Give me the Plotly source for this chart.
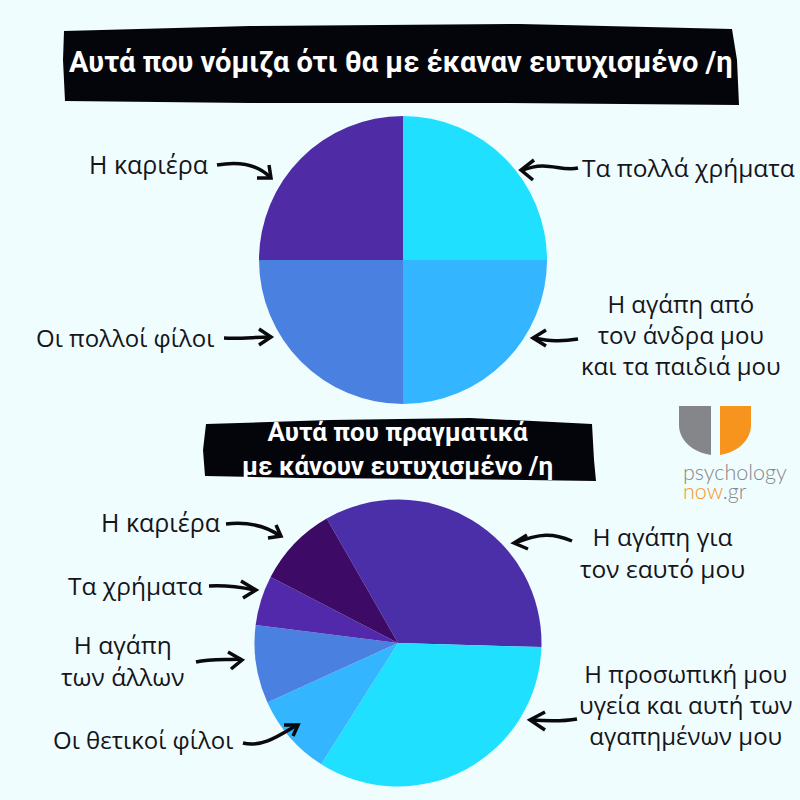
import plotly.graph_objs as go

# upper pie
thought_labels = ["Τα πολλά χρήματα", "Η αγάπη από τον άνδρα μου και τα παιδιά μου", "Οι πολλοί φίλοι", "Η καριέρα"]
thought_values = [25, 25, 25, 25]
thought_colors = ["#1fe0ff", "#33b5ff", "#4a80e0", "#4f2ca6"]

# lower pie
real_labels = ["Η αγάπη για τον εαυτό μου", "Η προσωπική μου υγεία και αυτή των αγαπημένων μου",
               "Οι θετικοί φίλοι", "Η αγάπη των άλλων", "Τα χρήματα", "Η καριέρα"]
real_values = [33.7, 33.5, 9.2, 8.8, 5.6, 9.1]
real_colors = ["#4b2fa8", "#1fe0ff", "#33b5ff", "#4a80e0", "#5229ab", "#3d0a66"]

BG = "#f0fdff"
LABEL_FONT = "Open Sans"
TITLE_FONT = "Roboto"
GREY = "#85868a"
ORANGE = "#f7941e"


def Domain(cx, cy, r):
    return dict(x=[(cx - r) / 800, (cx + r) / 800], y=[1 - (cy + r) / 800, 1 - (cy - r) / 800])


fig = go.Figure()
fig.add_trace(go.Pie(labels=thought_labels, values=thought_values, sort=False, direction="clockwise",
                     rotation=0, textinfo="none", marker=dict(colors=thought_colors), domain=Domain(403, 260, 144),
                     showlegend=False))
fig.add_trace(go.Pie(labels=real_labels, values=real_values, sort=False, direction="clockwise",
                     rotation=-29.8, textinfo="none", marker=dict(colors=real_colors), domain=Domain(398, 643, 143.5),
                     showlegend=False))

shapes = []


def Blob(path, color):
    shapes.append(dict(type="path", path=path, fillcolor=color, line=dict(width=0), xref="x", yref="y", layer="above"))


def Arrow(curve, head):
    shapes.append(dict(type="path", path=curve, line=dict(color="#0a0a0d", width=3.5), xref="x", yref="y", layer="above"))
    shapes.append(dict(type="path", path=head, line=dict(color="#0a0a0d", width=3.5), xref="x", yref="y", layer="above"))


# black ribbons behind the titles
Blob("M64,31 L250,26 L520,24 L732,29 L737,60 L739,105 L500,103 L250,103 L65,101 L63,60 Z", "#04050a")
Blob("M206,424 L330,420 L470,418 L592,424 L594,460 L596,481 L450,479 L300,478 L205,476 L203,450 Z", "#04050a")

# arrows, top pie
Arrow("M217,165 C240,161 258,165 270,177", "M257,178 L271,178 L269,165")
Arrow("M578,168 C560,172 548,160 523,170", "M534,160 L521,170 L533,180")
Arrow("M224,338 C240,339 255,337 270,337", "M259,329 L271,337 L259,345")
Arrow("M578,339 C560,342 550,341 533,338", "M546,330 L533,338 L546,346")
# arrows, bottom pie
Arrow("M226,524 C245,522 265,525 280,536", "M268,538 L281,536 L276,525")
Arrow("M209,586 C225,585 240,587 255,590", "M243,598 L256,590 L241,581")
Arrow("M196,662 C210,659 225,660 241,659", "M228,652 L242,660 L231,669")
Arrow("M243,743 C262,748 280,735 297,725", "M284,725 L298,725 L293,736")
Arrow("M572,541 C553,533 540,533 515,543", "M527,535 L514,543 L528,549")
Arrow("M577,719 C560,722 545,721 531,720", "M545,712 L530,720 L545,730")

# logo
Blob("M679,406 L711,406 L711,455 C692,452 679,440 679,425 Z", GREY)
Blob("M720,406 L751,406 L751,425 C751,440 738,452 720,455 Z", ORANGE)

annotations = []


def Text(x, y, text, size, font=LABEL_FONT, color="#15151a", anchor="center", weight="normal"):
    annotations.append(dict(x=x, y=y, text=text, showarrow=False, xref="x", yref="y", xanchor=anchor, yanchor="middle",
                            font=dict(family=font, size=size, color=color, weight=weight), align="center"))


Text(401, 62, "Αυτά που νόμιζα ότι θα με έκαναν ευτυχισμένο /η", 29, font=TITLE_FONT, color="white", weight="bold")
Text(397, 449, "Αυτά που πραγματικά<br>με κάνουν ευτυχισμένο /η", 26, font=TITLE_FONT, color="white", weight="bold")

Text(148, 164, "Η καριέρα", 25)
Text(688, 167, "Τα πολλά χρήματα", 24.5)
Text(125, 337, "Οι πολλοί φίλοι", 24)
Text(681, 334, "Η αγάπη από<br>τον άνδρα μου<br>και τα παιδιά μου", 24)
Text(160, 522, "Η καριέρα", 25)
Text(135, 585, "Τα χρήματα", 24.5)
Text(123, 660, "Η αγάπη<br>των άλλων", 24.5)
Text(143, 739, "Οι θετικοί φίλοι", 24)
Text(662, 552, "Η αγάπη για<br>τον εαυτό μου", 24.5)
Text(686, 704, "Η προσωπική μου<br>υγεία και αυτή των<br>αγαπημένων μου", 24)
Text(681, 472, "psychology", 21.5, font="Lato", color=GREY, anchor="left", weight=300)
Text(681, 491, "<span style='color:#f7941e'>now</span>.gr", 21.5, font="Lato", color=GREY, anchor="left", weight=300)

fig.update_layout(
    width=800, height=800, margin=dict(l=0, r=0, t=0, b=0), paper_bgcolor=BG, plot_bgcolor=BG,
    xaxis=dict(range=[0, 800], visible=False, fixedrange=True),
    yaxis=dict(range=[800, 0], visible=False, fixedrange=True),
    shapes=shapes, annotations=annotations,
)
fig.write_html("out.html", config={"displayModeBar": False}, post_script="document.body.style.margin='0';")
